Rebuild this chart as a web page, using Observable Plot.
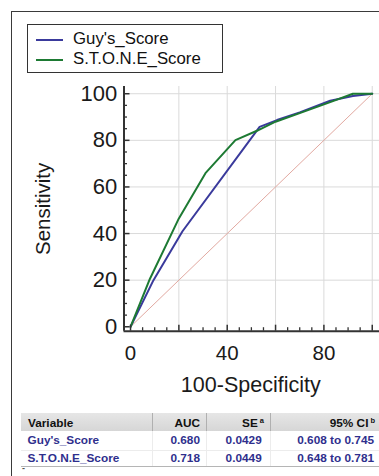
<!DOCTYPE html>
<html><head><meta charset="utf-8">
<script src="https://cdn.jsdelivr.net/npm/d3@7"></script>
<script src="https://cdn.jsdelivr.net/npm/@observablehq/plot@0.6"></script>
<style>
body{margin:0;background:#fff;font-family:"Liberation Sans",Arial,sans-serif;}
#wrap{position:relative;width:379px;height:476px;overflow:hidden;background:#fff;}
#frame{position:absolute;left:11px;top:11px;width:420px;height:520px;border:1.5px solid #3a3a3a;}
#chart{position:absolute;left:0;top:0;}
#legend{position:absolute;left:26.5px;top:23.5px;width:194px;height:47px;border:1.5px solid #333;background:#fff;}
.sw{position:absolute;height:2px;width:27px;}
.lt{position:absolute;font-size:16.8px;line-height:16px;color:#111;white-space:nowrap;}
.tx{position:absolute;font-size:11.8px;line-height:12px;font-weight:bold;white-space:nowrap;}
.tx sup{font-size:7.5px;vertical-align:top;position:relative;top:-2px;margin-left:2px;}
.hl{position:absolute;}
</style></head>
<body>
<div id="wrap">
  <div id="frame"></div>
  <div id="chart"></div>
  <div id="legend"></div>
  <div id="table"></div>
</div>
<script>
// ---- data ----
const seriesNames = ["Guy's_Score", "S.T.O.N.E_Score"];
const seriesColors = ["#3a3a9c", "#1d7a33"];
const guyX = [0, 9.5, 21.5, 53.4, 60.6, 70, 82.6, 92, 100];
const guyY = [0, 20, 41, 85.8, 88.7, 92, 97, 99, 100];
const stoneX = [0, 8, 20, 31, 43.4, 52.3, 60, 70, 82.6, 92, 100];
const stoneY = [0, 20.5, 46.5, 65.9, 80.1, 84.1, 88, 91.7, 96.4, 100, 100];
const refX = [0, 100];
const refY = [0, 100];
const xTickLabels = [0, 40, 80];
const yTickLabels = [0, 20, 40, 60, 80, 100];
const gridValues = [20, 40, 60, 80, 100];
const majorTicks = [0, 20, 40, 60, 80, 100];
const minorTicks = [5, 10, 15, 25, 30, 35, 45, 50, 55, 65, 70, 75, 85, 90, 95];
const xAxisTitle = "100-Specificity";
const yAxisTitle = "Sensitivity";

const tableHeader = ["Variable", "AUC", "SE", "95% CI"];
const tableSup = ["", "", "a", "b"];
const tableVariables = ["Guy's_Score", "S.T.O.N.E_Score"];
const tableAUC = ["0.680", "0.718"];
const tableSE = ["0.0429", "0.0449"];
const tableCI = ["0.608 to 0.745", "0.648 to 0.781"];

// ---- chart ----
const W = 379, H = 400, mL = 123.5, mR = 0, mT = 86, mB = 69.3;
const xMin = -2.7, xMax = 103, yMin = -1.9, yMax = 103.1;
const ux = (xMax - xMin) / (W - mL - mR);   // data units per px (x)
const uy = (yMax - yMin) / (H - mT - mB);   // data units per px (y)
const pts = (xs, ys) => xs.map((x, i) => ({x, y: ys[i]}));
const axisColor = "#333";
const majLen = 6, minLen = 3.5;

const chart = Plot.plot({
  width: W, height: H,
  marginLeft: mL, marginRight: mR, marginTop: mT, marginBottom: mB,
  x: {domain: [xMin, xMax]},
  y: {domain: [yMin, yMax]},
  style: {fontFamily: "'Liberation Sans', Arial, sans-serif", color: "#1a1a1a", background: "transparent", overflow: "hidden"},
  marks: [
    Plot.ruleX(gridValues, {stroke: "#dadada", strokeWidth: 1}),
    Plot.ruleY(gridValues, {stroke: "#dadada", strokeWidth: 1}),
    Plot.line(pts(refX, refY), {x: "x", y: "y", stroke: "#e2a9a1", strokeWidth: 1}),
    Plot.line(pts(guyX, guyY), {x: "x", y: "y", stroke: seriesColors[0], strokeWidth: 2}),
    Plot.line(pts(stoneX, stoneY), {x: "x", y: "y", stroke: seriesColors[1], strokeWidth: 2}),
    Plot.ruleX([xMin], {stroke: axisColor, strokeWidth: 2}),
    Plot.ruleY([yMin], {stroke: axisColor, strokeWidth: 2}),
    Plot.ruleX(majorTicks, {x: d => d, y1: yMin, y2: yMin + majLen * uy, stroke: axisColor, strokeWidth: 1.5}),
    Plot.ruleX(minorTicks, {x: d => d, y1: yMin, y2: yMin + minLen * uy, stroke: axisColor, strokeWidth: 1.3}),
    Plot.ruleY(majorTicks, {y: d => d, x1: xMin, x2: xMin + majLen * ux, stroke: axisColor, strokeWidth: 1.5}),
    Plot.ruleY(minorTicks, {y: d => d, x1: xMin, x2: xMin + minLen * ux, stroke: axisColor, strokeWidth: 1.3}),
    Plot.axisX({ticks: xTickLabels, tickSize: 0, tickPadding: 14.5, fontSize: 20.5, label: null}),
    Plot.axisY({ticks: yTickLabels, tickSize: 0, tickPadding: 6.8, fontSize: 22, label: null}),
    Plot.text([xAxisTitle], {frameAnchor: "bottom", dx: -1, dy: 61, lineAnchor: "bottom", fontSize: 21.5, text: d => d, fill: "#1a1a1a"}),
    Plot.text([yAxisTitle], {frameAnchor: "left", dx: -80.5, rotate: -90, lineAnchor: "middle", textAnchor: "middle", fontSize: 20.5, text: d => d, fill: "#1a1a1a"})
  ]
});
document.getElementById("chart").appendChild(chart);

// ---- legend ----
const legend = document.getElementById("legend");
const rowCenters = [15, 35.5];
const textCenters = [15, 34.5];
seriesNames.forEach((name, i) => {
  const sw = document.createElement("div");
  sw.className = "sw";
  sw.style.left = "8.5px";
  sw.style.top = (rowCenters[i] - 1) + "px";
  sw.style.background = seriesColors[i];
  legend.appendChild(sw);
  const t = document.createElement("div");
  t.className = "lt";
  t.style.left = "45.5px";
  t.style.top = (textCenters[i] - 8.2) + "px";
  t.textContent = name;
  legend.appendChild(t);
});

// ---- table ----
const table = document.getElementById("table");
function box(l, t, w, h, bg) {
  const d = document.createElement("div");
  d.className = "hl";
  Object.assign(d.style, {left: l + "px", top: t + "px", width: w + "px", height: h + "px", background: bg});
  table.appendChild(d);
}
function txt(s, baseline, color, left, right, sup) {
  const d = document.createElement("div");
  d.className = "tx";
  d.style.top = (baseline - 10) + "px";
  d.style.color = color;
  if (left != null) d.style.left = left + "px";
  if (right != null) d.style.right = (379 - right) + "px";
  d.textContent = s;
  if (sup) { const sp = document.createElement("sup"); sp.textContent = sup; d.appendChild(sp); }
  table.appendChild(d);
}
box(21, 413, 400, 17.5, "linear-gradient(#e6e6e6,#d6d6d6)");
box(21, 449.5, 400, 1, "#ececec");
box(21, 465.5, 400, 1.2, "#b5b5b5");
const sepX = [151.5, 205.5, 270];
sepX.forEach(x => { box(x, 413, 1, 17.5, "#b0b0b0"); box(x, 430.5, 1, 35, "#ececec"); });
const colRight = [null, 200, 264, 375];
const valRight = [null, 200, 261.7, 374];
tableHeader.forEach((h, j) => {
  if (j === 0) txt(h, 427, "#111", 28, null, "");
  else txt(h, 427, "#111", null, colRight[j], tableSup[j]);
});
const rowBase = [444.3, 462];
const blue = "#2f2f8d";
tableVariables.forEach((v, i) => {
  txt(v, rowBase[i], blue, 27.5, null, "");
  txt(tableAUC[i], rowBase[i], blue, null, valRight[1], "");
  txt(tableSE[i], rowBase[i], blue, null, valRight[2], "");
  txt(tableCI[i], rowBase[i], blue, null, valRight[3], "");
});
const dash = document.createElement("div");
dash.className = "tx";
Object.assign(dash.style, {left: "22px", top: "462px", color: "#555", fontSize: "9px"});
dash.textContent = "-";
table.appendChild(dash);
</script>
</body></html>
